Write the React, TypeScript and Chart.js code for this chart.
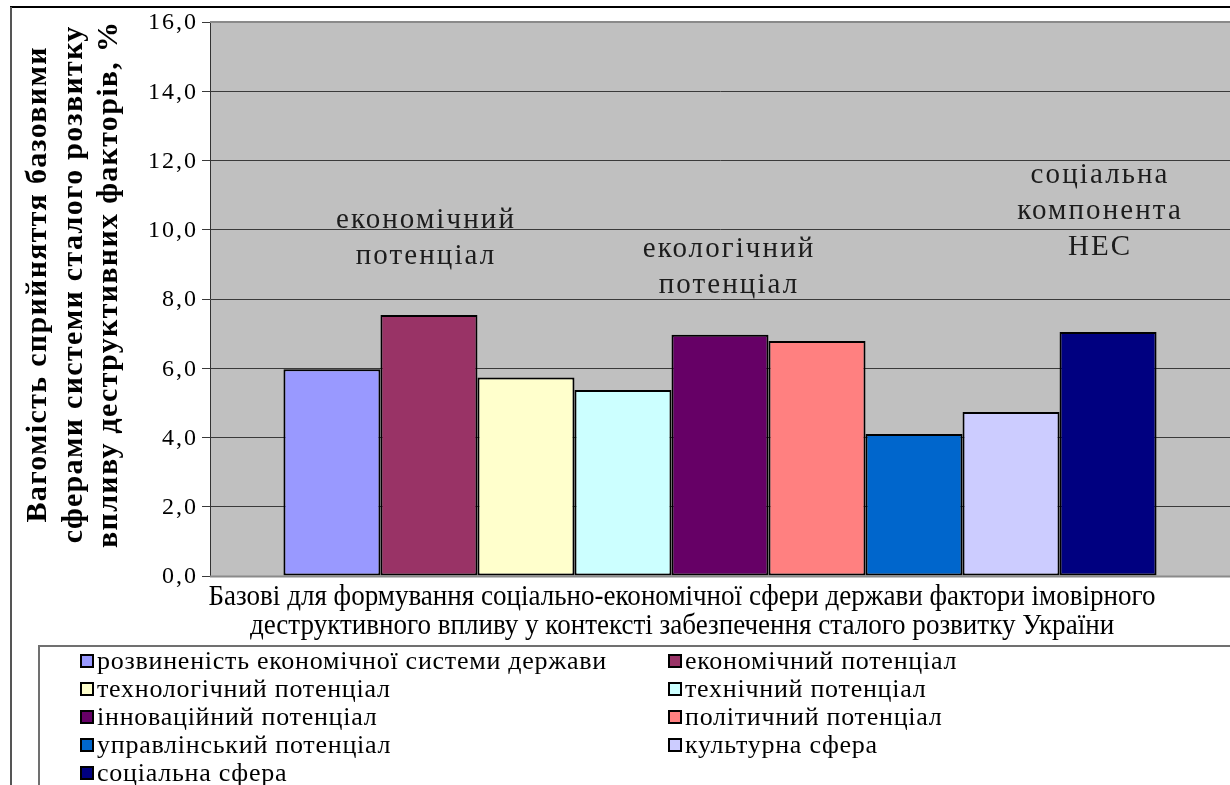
import { useEffect, useRef } from "react";
import { Chart, registerables } from "chart.js";

Chart.register(...registerables);

// ---------------- data ----------------
const categories = ["Базові фактори"];
const seriesNames = [
  "розвиненість економічної системи держави",
  "економічний потенціал",
  "технологічний потенціал",
  "технічний потенціал",
  "інноваційний потенціал",
  "політичний потенціал",
  "управлінський потенціал",
  "культурна сфера",
  "соціальна сфера",
];
const seriesValues = [5.97, 7.54, 5.73, 5.37, 6.97, 6.79, 4.1, 4.74, 7.05];
const seriesColors = [
  "#9999FF",
  "#993366",
  "#FFFFCC",
  "#CCFFFF",
  "#660066",
  "#FF8080",
  "#0066CC",
  "#CCCCFF",
  "#000080",
];
const yMin = 0;
const yMax = 16;
const yStep = 2;
const yTitleLines = [
  "Вагомість сприйняття базовими",
  "сферами системи сталого розвитку",
  "впливу деструктивних факторів, %",
];
const xTitleLines = [
  "Базові для формування соціально-економічної сфери держави фактори імовірного",
  "деструктивного впливу у контексті забезпечення сталого розвитку України",
];
const annotationLines = [
  ["економічний", "потенціал"],
  ["екологічний", "потенціал"],
  ["соціальна", "компонента", "НЕС"],
];
const annotationSeries = [1, 4, 8];
const annotationTopValue = [10.28, 9.42, 11.58];

// ---------------- layout / style ----------------
const W = 1230;
const H = 785;
const SERIF = '"Liberation Serif", "Times New Roman", serif';

function spacingFor(ctx: CanvasRenderingContext2D, font: string, text: string, target: number) {
  ctx.save();
  ctx.font = font;
  (ctx as any).letterSpacing = "0px";
  const w = ctx.measureText(text).width;
  ctx.restore();
  return (target - w) / text.length;
}

function drawSpaced(
  ctx: CanvasRenderingContext2D,
  text: string,
  x: number,
  y: number,
  font: string,
  color: string,
  ls: number,
  align: "left" | "center" | "right"
) {
  ctx.save();
  ctx.font = font;
  ctx.fillStyle = color;
  ctx.textBaseline = "middle";
  (ctx as any).letterSpacing = ls + "px";
  const w = ctx.measureText(text).width - ls;
  const sx = align === "center" ? x - w / 2 : align === "right" ? x - w : x;
  ctx.textAlign = "left";
  ctx.fillText(text, sx, y);
  ctx.restore();
}

const decorPlugin = {
  id: "decor",
  beforeDraw(chart: any) {
    const { ctx, chartArea } = chart;
    ctx.save();
    ctx.fillStyle = "#ffffff";
    ctx.fillRect(0, 0, W, H);
    ctx.fillStyle = "#C0C0C0";
    ctx.fillRect(chartArea.left, chartArea.top, chartArea.right - chartArea.left, chartArea.bottom - chartArea.top);
    ctx.restore();
  },
  afterDraw(chart: any) {
    const { ctx, chartArea } = chart;
    const yScale = chart.scales.y;
    ctx.save();

    // plot area top / bottom border
    ctx.strokeStyle = "#8a8a8a";
    ctx.lineWidth = 2;
    ctx.beginPath();
    ctx.moveTo(chartArea.left, chartArea.top);
    ctx.lineTo(W, chartArea.top);
    ctx.moveTo(chartArea.left, chartArea.bottom + 0.5);
    ctx.lineTo(W, chartArea.bottom + 0.5);
    ctx.stroke();

    // outer frame
    ctx.strokeStyle = "#000";
    ctx.lineWidth = 2;
    ctx.beginPath();
    ctx.moveTo(10, 7);
    ctx.lineTo(W, 7);
    ctx.stroke();
    ctx.strokeStyle = "#555";
    ctx.beginPath();
    ctx.moveTo(11, 7);
    ctx.lineTo(11, H);
    ctx.stroke();

    // y tick labels
    const tickFont = `24px ${SERIF}`;
    const tls = spacingFor(ctx, tickFont, "16,0", 50);
    yScale.ticks.forEach((t: any) => {
      const y = yScale.getPixelForValue(t.value);
      drawSpaced(ctx, t.value.toFixed(1).replace(".", ","), 196, y + 1, tickFont, "#000", tls, "right");
    });

    // y title
    const yFont = `bold 30px ${SERIF}`;
    const yls = spacingFor(ctx, yFont, yTitleLines[1], 518);
    const yCenters = [38, 74, 109];
    yTitleLines.forEach((line, i) => {
      ctx.save();
      ctx.translate(yCenters[i], 285);
      ctx.rotate(-Math.PI / 2);
      drawSpaced(ctx, line, 0, 0, yFont, "#000", yls, "center");
      ctx.restore();
    });

    // x title (condensed)
    const xFont = `30px ${SERIF}`;
    ctx.save();
    ctx.font = xFont;
    (ctx as any).letterSpacing = "0px";
    const k = 947 / ctx.measureText(xTitleLines[0]).width;
    ctx.restore();
    const xCenter = 682;
    const xYs = [597, 626];
    xTitleLines.forEach((line, i) => {
      ctx.save();
      ctx.font = xFont;
      ctx.fillStyle = "#000";
      ctx.textAlign = "center";
      ctx.textBaseline = "middle";
      ctx.translate(xCenter, xYs[i]);
      ctx.scale(k, 1);
      ctx.fillText(line, 0, 0);
      ctx.restore();
    });

    // annotations
    const aFont = `29px ${SERIF}`;
    const als = spacingFor(ctx, aFont, "економічний", 180);
    const meta = annotationSeries.map((s) => chart.getDatasetMeta(s).data[0]);
    const nudges = [-4, 8, -9];
    annotationLines.forEach((lines, i) => {
      const cx = meta[i].x + nudges[i];
      const y0 = yScale.getPixelForValue(annotationTopValue[i]);
      lines.forEach((line, j) => {
        drawSpaced(ctx, line, cx, y0 + j * 36, aFont, "#1c1c1c", als, "center");
      });
    });

    // legend
    ctx.strokeStyle = "#707070";
    ctx.lineWidth = 2;
    ctx.strokeRect(39, 646, 1400, 300);
    const lFont = `26px ${SERIF}`;
    const lls = spacingFor(ctx, lFont, seriesNames[0], 510);
    const colX = [80, 668];
    chart.data.datasets.forEach((ds: any, i: number) => {
      const col = i % 2;
      const row = Math.floor(i / 2);
      const cy = 661 + row * 28;
      const sx = colX[col];
      ctx.fillStyle = ds.backgroundColor;
      ctx.fillRect(sx, cy - 7, 14, 14);
      ctx.strokeStyle = "#000";
      ctx.lineWidth = 2;
      ctx.strokeRect(sx + 1, cy - 6, 12, 12);
      drawSpaced(ctx, ds.label, sx + 17, cy + 1, lFont, "#000", lls, "left");
    });

    ctx.restore();
  },
};

export default function App() {
  const ref = useRef<HTMLCanvasElement | null>(null);
  useEffect(() => {
    if (!ref.current) return;
    const chart = new Chart(ref.current, {
      type: "bar",
      data: {
        labels: categories,
        datasets: seriesNames.map((name, i) => ({
          label: name,
          data: [seriesValues[i]],
          backgroundColor: seriesColors[i],
          borderColor: "#000",
          borderWidth: 2,
          borderSkipped: false,
          categoryPercentage: 0.856,
          barPercentage: 1.0,
        })),
      },
      options: {
        animation: false,
        responsive: false,
        devicePixelRatio: 1,
        events: [],
        layout: { padding: { top: 22, bottom: 209, left: 0, right: 0 } },
        plugins: {
          legend: { display: false },
          tooltip: { enabled: false },
          title: { display: false },
        },
        scales: {
          x: { display: false },
          y: {
            min: yMin,
            max: yMax,
            ticks: { display: false, stepSize: yStep },
            grid: { color: "#3a3a3a", lineWidth: 1, tickLength: 8, drawTicks: true },
            border: { display: true, color: "#333", width: 1 },
            afterFit: (s: any) => {
              s.width = 210;
            },
          },
        },
      },
      plugins: [decorPlugin],
    });
    return () => chart.destroy();
  }, []);
  return (
    <div style={{ position: "fixed", left: 0, top: 0, width: W, height: H }}>
      <canvas ref={ref} width={W} height={H} style={{ width: W, height: H, display: "block" }} />
    </div>
  );
}
